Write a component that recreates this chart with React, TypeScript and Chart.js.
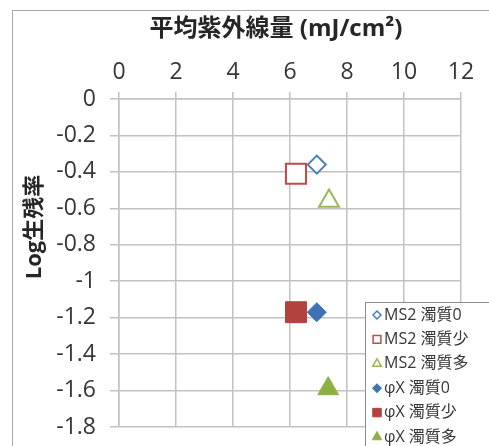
import React, { useEffect, useRef } from 'react';
import { Chart, registerables } from 'chart.js';
import { drawPoint } from 'chart.js/helpers';

Chart.register(...registerables);

// ---- data ----
const seriesNames = ['MS2 濁質0', 'MS2 濁質少', 'MS2 濁質多', 'φX 濁質0', 'φX 濁質少', 'φX 濁質多'];
const doseValues = [6.94, 6.21, 7.37, 6.94, 6.21, 7.34];
const logSurvivalValues = [-0.36, -0.41, -0.56, -1.17, -1.17, -1.59];
const xTickValues = [0, 2, 4, 6, 8, 10, 12];
const yTickValues = [0, -0.2, -0.4, -0.6, -0.8, -1, -1.2, -1.4, -1.6, -1.8];
const xAxisTitle = '平均紫外線量 (mJ/cm²)';
const yAxisTitle = 'Log生残率';

// ---- styles ----
const FONT = '"Open Sans", "Noto Sans CJK JP", sans-serif';
const GRID = '#c2c2c2';
const TEXT = '#363636';
const BLUE = '#4A7EBB';
const RED = '#BE4B48';
const GREEN = '#98B954';
const markerStyles = [
  { pointStyle: 'rectRot', radius: 9, fill: '#ffffff', stroke: BLUE, width: 2, lRadius: 4 },
  { pointStyle: 'rect', radius: 14.2, fill: '#ffffff', stroke: RED, width: 2, lRadius: 5.5 },
  { pointStyle: 'triangle', radius: 11.5, fill: '#ffffff', stroke: GREEN, width: 2, lRadius: 5 },
  { pointStyle: 'rectRot', radius: 9.5, fill: '#3F72B5', stroke: '#3F72B5', width: 1, lRadius: 4.5 },
  { pointStyle: 'rect', radius: 14.8, fill: '#B3413E', stroke: '#B3413E', width: 1, lRadius: 6 },
  { pointStyle: 'triangle', radius: 12, fill: '#8DB045', stroke: '#8DB045', width: 1, lRadius: 5.5 },
];

const CANVAS_W = 540;
const CANVAS_H = 460;

const overlayPlugin = {
  id: 'overlay',
  afterDraw(chart: any) {
    const ctx = chart.ctx as CanvasRenderingContext2D;
    ctx.save();
    // axis titles
    ctx.fillStyle = '#262626';
    ctx.font = `bold 24px ${FONT}`;
    ctx.textAlign = 'center';
    ctx.textBaseline = 'middle';
    ctx.fillText(xAxisTitle, 263, 18);
    ctx.save();
    ctx.font = `bold 22px ${FONT}`;
    ctx.translate(22, 216);
    ctx.rotate(-Math.PI / 2);
    ctx.fillText(yAxisTitle, 0, 0);
    ctx.restore();

    // legend box
    const lx = 352;
    const ly = 291;
    ctx.fillStyle = '#ffffff';
    ctx.fillRect(lx, ly, 220, 200);
    ctx.strokeStyle = '#8c8c8c';
    ctx.lineWidth = 1;
    ctx.strokeRect(lx + 0.5, ly + 0.5, 220, 200);
    chart.data.datasets.forEach((ds: any, i: number) => {
      const m = markerStyles[i];
      const y = 304 + i * 24.4;
      ctx.fillStyle = m.fill;
      ctx.strokeStyle = m.stroke;
      ctx.lineWidth = m.width === 2 ? 1.5 : 1;
      drawPoint(ctx, { pointStyle: m.pointStyle, radius: m.lRadius, borderWidth: ctx.lineWidth, rotation: 0 } as any, 364, y);
      ctx.fillStyle = TEXT;
      ctx.font = `16px ${FONT}`;
      ctx.textAlign = 'left';
      ctx.textBaseline = 'middle';
      ctx.fillText(ds.label, 371, y);
    });
    ctx.restore();
  },
};

export default function App() {
  const canvasRef = useRef<HTMLCanvasElement | null>(null);

  useEffect(() => {
    if (!canvasRef.current) return;
    const datasets = seriesNames.map((name, i) => ({
      label: name,
      data: [{ x: doseValues[i], y: logSurvivalValues[i] }],
      pointStyle: markerStyles[i].pointStyle as any,
      pointRadius: markerStyles[i].radius,
      pointBackgroundColor: markerStyles[i].fill,
      pointBorderColor: markerStyles[i].stroke,
      pointBorderWidth: markerStyles[i].width,
      showLine: false,
    }));
    const chart = new Chart(canvasRef.current, {
      type: 'scatter',
      data: { datasets },
      options: {
        responsive: false,
        animation: false,
        devicePixelRatio: 1,
        layout: { padding: { left: 0, top: 0, right: CANVAS_W - 448, bottom: CANVAS_H - 416 } },
        plugins: {
          legend: { display: false },
          tooltip: { enabled: false },
          title: { display: false },
        },
        scales: {
          x: {
            type: 'linear',
            position: 'top',
            min: 0,
            max: 12,
            afterFit: (s: any) => { s.height = 88; },
            afterBuildTicks: (s: any) => { s.ticks = xTickValues.map((v) => ({ value: v })); },
            grid: { color: GRID, lineWidth: 1.5, tickLength: 7, drawTicks: true },
            border: { color: GRID, width: 1.5 },
            ticks: {
              padding: 6,
              maxRotation: 0,
              color: TEXT,
              font: { size: 23, family: FONT },
              callback: (v: any) => String(v),
            },
          },
          y: {
            type: 'linear',
            min: -1.8,
            max: 0,
            afterFit: (s: any) => { s.width = 106; },
            afterBuildTicks: (s: any) => { s.ticks = yTickValues.map((v) => ({ value: v })); },
            grid: { color: GRID, lineWidth: 1.5, tickLength: 9, drawTicks: true },
            border: { color: GRID, width: 1.5 },
            ticks: {
              padding: 14,
              color: TEXT,
              font: { size: 23, family: FONT },
              callback: (v: any) => String(v),
            },
          },
        },
      },
      plugins: [overlayPlugin],
    });
    return () => chart.destroy();
  }, []);

  return (
    <div style={{ position: 'fixed', left: 0, top: 0, width: 489, height: 446, overflow: 'hidden', background: '#ffffff' }}>
      <div style={{ position: 'absolute', left: 12, top: 10, width: 600, height: 500, border: '1px solid #a8a8a8' }}>
        <canvas
          ref={canvasRef}
          width={CANVAS_W}
          height={CANVAS_H}
          style={{ display: 'block', width: CANVAS_W, height: CANVAS_H }}
        />
      </div>
    </div>
  );
}
